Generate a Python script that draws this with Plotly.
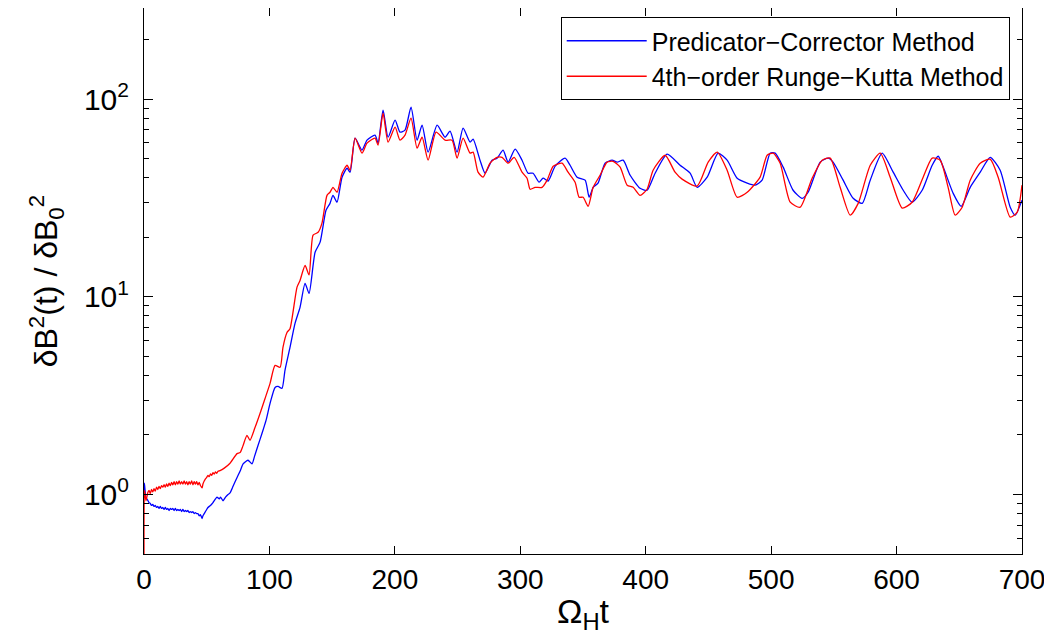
import plotly.graph_objects as go

# Predictor-corrector run (blue)
PC_T = [
    0, 0.3, 1.5, 3.2, 4, 5, 6, 7, 8, 9, 10, 11, 12, 13, 14, 15, 16, 17, 18, 19, 20,
    21, 22, 23, 24, 25, 26, 27, 28, 29, 30, 31, 32, 33, 34, 35, 36, 37, 38, 39, 40,
    41, 42, 43, 44, 45, 46.3, 47, 48, 49, 50, 51, 53, 55, 56, 57, 58.2, 60, 61, 63,
    65, 67, 68.6, 71, 74.2, 77, 79, 82.9, 86.1, 88, 90.9, 94.1, 97.3, 100.5, 104.5,
    106.9, 110, 112.4, 116.4, 120.4, 124.4, 128.4, 131.6, 136.4, 140.4, 145.1, 148.3,
    150.7, 153.9, 157.9, 161.9, 164.3, 168.3, 173.8, 177.8, 184.2, 186.6, 190.6,
    194.6, 200.2, 204.1, 208.1, 212.9, 217.7, 221.7, 226.5, 233.7, 240, 244, 249.6,
    254.4, 260, 262.4, 267.9, 271.9, 277.5, 281.5, 286.3, 290.3, 295.9, 301.4, 306.2,
    310.2, 315, 318.2, 322.2, 327.8, 335.7, 339.7, 345.3, 351.7, 354.9, 358.1, 362,
    367.6, 373.2, 377.2, 382, 387.6, 395.5, 401.1, 407.5, 417.1, 427.4, 435.4, 441,
    449, 457.7, 464.9, 472.9, 480.9, 487.2, 492.8, 499.2, 503.2, 509.6, 517.5, 524.7,
    529.5, 539.1, 545.5, 549.4, 557.4, 565.4, 572.6, 579, 588.5, 597.3, 605.3, 612.4,
    620.4, 628.4, 633.2, 637.2, 645.1, 651.5, 658.7, 666.7, 674.6, 682.6, 690.6,
    694.6, 700,
]
PC_B = [
    1.0, 1.14, 0.97, 0.93, 0.91, 0.90, 0.88, 0.89, 0.87, 0.88, 0.86, 0.87, 0.85, 0.87,
    0.85, 0.86, 0.84, 0.86, 0.84, 0.85, 0.83, 0.85, 0.84, 0.85, 0.83, 0.85, 0.83, 0.84,
    0.83, 0.84, 0.82, 0.84, 0.82, 0.83, 0.82, 0.83, 0.81, 0.82, 0.81, 0.82, 0.80, 0.81,
    0.80, 0.80, 0.78, 0.79, 0.756, 0.78, 0.80, 0.82, 0.84, 0.86, 0.88, 0.91, 0.93, 0.95,
    0.97, 0.95, 0.97, 0.93, 0.97, 1.0, 1.02, 1.10, 1.22, 1.33, 1.43, 1.49, 1.43, 1.55,
    1.77, 2.04, 2.37, 2.89, 3.48, 3.52, 3.44, 4.25, 5.55, 7.34, 8.85, 11.7, 10.4, 16.8,
    18.9, 27.4, 29.7, 32.6, 30.1, 40.3, 44.7, 42.7, 63.5, 55.2, 62.0, 65.8, 59.9, 88.0,
    64.2, 78.3, 68.1, 69.7, 91.1, 62.0, 73.8, 53.9, 73.8, 64.2, 68.9, 53.9, 71.3, 60.6,
    62.7, 49.1, 42.2, 49.1, 50.3, 55.2, 48.0, 55.8, 49.1, 42.2, 42.2, 38.0, 39.8, 38.5,
    45.8, 50.3, 46.3, 40.3, 38.9, 31.9, 35.8, 37.6, 47.4, 49.1, 48.0, 49.1, 41.2, 35.4,
    34.6, 42.2, 52.7, 46.3, 42.2, 35.8, 40.3, 53.3, 49.1, 39.8, 37.6, 36.7, 38.9, 53.3,
    53.3, 45.3, 34.6, 31.5, 33.8, 48.0, 50.3, 48.0, 38.9, 31.5, 29.7, 38.9, 53.3, 42.7,
    34.6, 30.1, 34.6, 46.3, 51.4, 45.3, 33.4, 28.7, 35.8, 42.7, 50.8, 43.7, 28.4, 25.9,
    30.8,
]

# 4th-order Runge-Kutta run (red)
RK_T = [
    0, 0.4, 1.6, 3, 4, 5, 6, 7, 8, 9, 10, 11, 12, 13, 14, 15, 16, 17, 18, 19, 20, 21,
    22, 23, 24, 25, 26, 27, 28, 29, 30, 31, 32, 33, 34, 35, 36, 37, 38, 39, 40, 41,
    42, 43, 44, 45, 46.3, 47, 48, 49, 50, 51, 52, 53, 54, 55, 56, 57, 58, 59, 60.6,
    64, 68.6, 74.2, 76.6, 79, 82.1, 84.5, 88.5, 92.5, 96.5, 100.5, 104.5, 108.5,
    110.8, 114, 116.4, 122, 124.4, 128.4, 131.6, 134.8, 138.8, 141.9, 145.9, 148.3,
    150.7, 153.9, 157.9, 161.9, 164.3, 168.3, 173.8, 177.8, 184.2, 186.6, 190.6,
    194.6, 200.2, 204.1, 208.1, 212.9, 217.7, 221.7, 226.5, 232.9, 240, 245.6, 249.6,
    254.4, 260, 262.4, 266.3, 270.3, 275.9, 281.5, 285.5, 290.3, 295.1, 301.4, 305.4,
    307.8, 311.8, 317.4, 321.4, 326.2, 333.3, 338.1, 343.7, 346.9, 350.1, 354.1,
    358.1, 363.6, 369.2, 374, 379.6, 385.2, 390, 395.5, 401.1, 405.9, 415.5, 423.4,
    429, 441, 449.8, 457, 464.9, 472.9, 480.9, 491.2, 496.8, 501.6, 507.2, 515.2,
    523.1, 532.7, 540.7, 547.1, 555, 563, 569.4, 579, 587, 594.9, 604.5, 612.4, 621.2,
    628.4, 634.8, 641.1, 646.7, 652.3, 658.7, 666.7, 674.6, 681, 690.6, 696.2, 700,
]
RK_B = [
    0.5, 1.05, 0.93, 1.02, 1.05, 1.01, 1.06, 1.03, 1.07, 1.04, 1.09, 1.06, 1.10, 1.07,
    1.11, 1.09, 1.12, 1.09, 1.13, 1.10, 1.14, 1.11, 1.15, 1.12, 1.16, 1.12, 1.16, 1.13,
    1.17, 1.13, 1.16, 1.13, 1.17, 1.13, 1.16, 1.12, 1.16, 1.13, 1.17, 1.12, 1.16, 1.13,
    1.16, 1.12, 1.15, 1.11, 1.08, 1.13, 1.17, 1.20, 1.22, 1.25, 1.23, 1.27, 1.25, 1.29,
    1.27, 1.30, 1.28, 1.31, 1.32, 1.36, 1.44, 1.61, 1.63, 1.77, 1.99, 1.88, 2.18, 2.57,
    3.06, 3.65, 4.50, 4.40, 5.55, 6.6, 6.9, 11.2, 12.1, 14.4, 12.9, 20.5, 21.2, 23.6,
    32.6, 33.8, 35.8, 33.8, 42.2, 46.3, 43.7, 63.5, 53.3, 59.9, 63.5, 58.5, 84.9, 60.6,
    72.1, 62.0, 65.8, 80.1, 56.5, 64.2, 49.1, 68.1, 62.0, 62.0, 50.3, 63.5, 53.3, 53.9,
    42.7, 40.3, 47.4, 50.8, 50.8, 47.4, 50.8, 42.7, 39.8, 35.0, 35.8, 35.8, 38.9, 45.8,
    47.4, 42.7, 38.0, 31.9, 31.9, 28.7, 35.8, 41.2, 48.0, 48.5, 45.3, 36.7, 35.8, 32.6,
    35.0, 43.7, 52.0, 42.7, 39.4, 36.3, 48.0, 53.9, 43.7, 31.9, 33.8, 40.3, 52.0, 53.3,
    47.4, 30.1, 28.4, 39.8, 49.1, 50.3, 35.8, 25.9, 29.7, 46.3, 53.3, 40.3, 28.1, 30.1,
    40.3, 50.3, 49.1, 35.8, 25.9, 28.4, 38.9, 47.4, 49.7, 40.3, 25.3, 26.8, 36.7,
]

Y_TICKS = [1, 10, 100]
Y_TICK_TEXT = ["10<sup>0</sup>", "10<sup>1</sup>", "10<sup>2</sup>"]
Y_MINOR = [0.5, 0.6, 0.7, 0.8, 0.9, 2, 3, 4, 5, 6, 7, 8, 9,
           20, 30, 40, 50, 60, 70, 80, 90, 200, 300]
X_TICKS = [0, 100, 200, 300, 400, 500, 600, 700]

FONT = "Liberation Sans, Arial, sans-serif"

fig = go.Figure()
fig.add_trace(go.Scatter(
    x=PC_T, y=PC_B, mode="lines", name="Predicator\u2212Corrector Method",
    line={"color": "#0000ff", "width": 1.3, "shape": "spline", "smoothing": 0.6},
))
fig.add_trace(go.Scatter(
    x=RK_T, y=RK_B, mode="lines", name="4th\u2212order Runge\u2212Kutta Method",
    line={"color": "#ff0000", "width": 1.3, "shape": "spline", "smoothing": 0.6},
))

axis_common = dict(
    showline=True, linecolor="black", linewidth=1, mirror="ticks",
    ticks="inside", tickcolor="black", showgrid=False, zeroline=False,
)

fig.update_xaxes(
    range=[0, 700], tickvals=X_TICKS, ticklen=8,
    tickfont={"size": 28, "color": "black", "family": FONT},
    title={"text": "\u03a9<sub>H</sub>t", "font": {"size": 34, "family": FONT}, "standoff": 5},
    **axis_common,
)
fig.update_yaxes(
    type="log", range=[-0.301, 2.461], tickvals=Y_TICKS, ticktext=Y_TICK_TEXT, ticklen=9,
    tickfont={"size": 30, "color": "black", "family": FONT}, ticklabelstandoff=8,
    minor={"tickvals": Y_MINOR, "ticks": "inside", "ticklen": 5, "tickcolor": "black"},
    title={"text": "\u03b4B<sup>2</sup>(t) / \u03b4B<sub>0</sub><sup>2</sup>",
           "font": {"size": 32, "family": FONT}, "standoff": 16},
    **axis_common,
)

# the page body adds an 8 px offset, so margins are trimmed to land the frame in place
fig.update_layout(
    width=1052,
    height=644,
    template="simple_white",
    paper_bgcolor="white",
    plot_bgcolor="white",
    font={"family": FONT, "color": "black"},
    margin={"l": 136, "r": 38, "t": 0, "b": 98},
    showlegend=True,
    legend={
        "x": 0.986, "y": 0.9835, "xanchor": "right", "yanchor": "top",
        "bgcolor": "white", "bordercolor": "black", "borderwidth": 1,
        "font": {"size": 25, "family": FONT}, "itemwidth": 80,
        "tracegroupgap": 0,
    },
)

fig.write_html("out.html")
